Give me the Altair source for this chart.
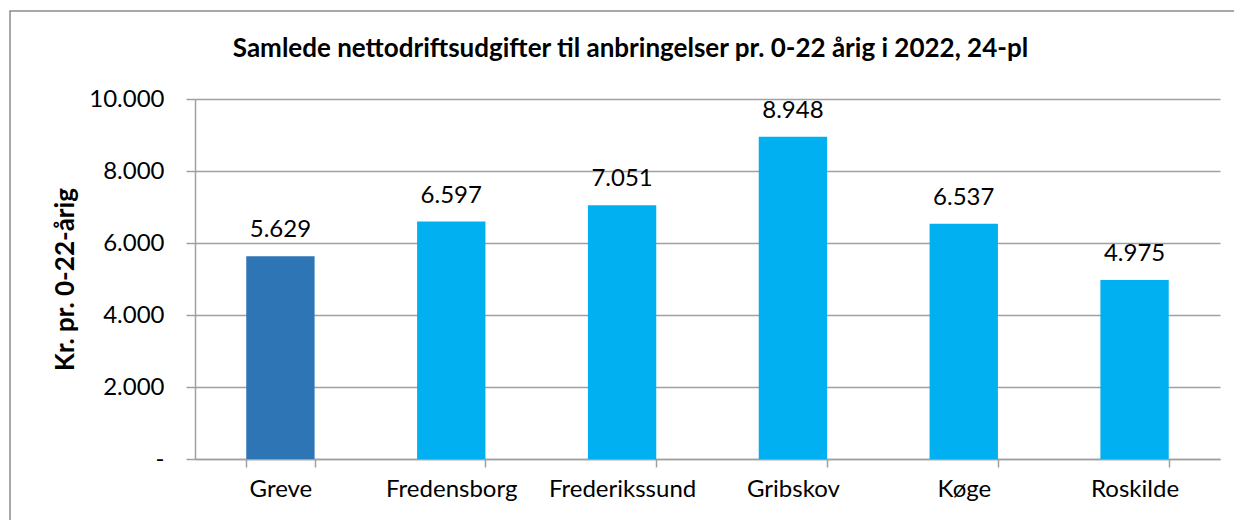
import altair as alt
import pandas as pd

kommuner = ["Greve", "Fredensborg", "Frederikssund", "Gribskov", "Køge", "Roskilde"]
udgifter = [5629, 6597, 7051, 8948, 6537, 4975]
farver = ["#2E75B6", "#00B0F0", "#00B0F0", "#00B0F0", "#00B0F0", "#00B0F0"]
y_ticks = [0, 2000, 4000, 6000, 8000, 10000]

titel = "Samlede nettodriftsudgifter til anbringelser pr. 0-22 årig i 2022, 24-pl"
y_titel = "Kr. pr. 0-22-årig"

df = pd.DataFrame({"kommune": kommuner, "vaerdi": udgifter, "farve": farver})
df["label"] = df["vaerdi"].map(lambda v: f"{v:,}".replace(",", "."))

FONT = "Lato"
GRID = "#A0A0A0"

x_enc = alt.X(
    "kommune:N",
    sort=kommuner,
    title=None,
    scale=alt.Scale(paddingInner=0.6, paddingOuter=0.3),
    axis=alt.Axis(
        labelAngle=0,
        labelFontSize=24,
        labelFont=FONT,
        labelColor="#000000",
        labelPadding=10,
        tickBand="extent",
        tickSize=8,
        tickColor=GRID,
        tickWidth=1.5,
        domainColor=GRID,
        domainWidth=1.5,
        grid=False,
    ),
)

y_enc = alt.Y(
    "vaerdi:Q",
    title=y_titel,
    scale=alt.Scale(domain=[0, 10000], nice=False),
    axis=alt.Axis(
        values=y_ticks,
        labelExpr="datum.value == 0 ? '-' : replace(format(datum.value, ','), ',', '.')",
        labelFontSize=24,
        labelFont=FONT,
        labelColor="#000000",
        labelPadding=22,
        tickSize=9,
        tickColor=GRID,
        tickWidth=1.5,
        domainColor=GRID,
        domainWidth=1.5,
        grid=True,
        gridColor=GRID,
        gridWidth=1.5,
        titleFont=FONT,
        titleFontSize=26,
        titleFontWeight="bold",
        titleColor="#000000",
        titleX=-130,
        titleY=180,
        titleAlign="center",
        titleBaseline="middle",
        titleAngle=-90,
    ),
)

base = alt.Chart(df)

bars = base.mark_bar().encode(
    x=x_enc,
    y=y_enc,
    color=alt.Color("farve:N", scale=None),
)

labels = base.mark_text(
    font=FONT, fontSize=24, color="#000000", baseline="alphabetic", dy=-19
).encode(
    x=alt.X("kommune:N", sort=kommuner),
    y=alt.Y("vaerdi:Q"),
    text="label:N",
)

border = alt.Chart(pd.DataFrame({"a": [0]})).mark_rect(
    fill=None, stroke="#8C8C8C", strokeWidth=1.5
).encode(
    x=alt.value(-185), x2=alt.value(1080), y=alt.value(-88), y2=alt.value(540)
)

chart = (
    alt.layer(border, bars, labels)
    .properties(
        width=1025,
        height=360,
        autosize=alt.AutoSizeParams(type="none"),
        padding={"left": 187, "top": 91, "right": 14, "bottom": 62},
        title=alt.TitleParams(
            titel,
            font=FONT,
            fontSize=26,
            fontWeight="bold",
            color="#000000",
            anchor="middle",
            frame="group",
            baseline="alphabetic",
            dx=-77,
            offset=-73,
        ),
    )
    .configure_view(stroke=None)
)

chart.save("out.html", embed_options={"renderer": "svg", "actions": False})
